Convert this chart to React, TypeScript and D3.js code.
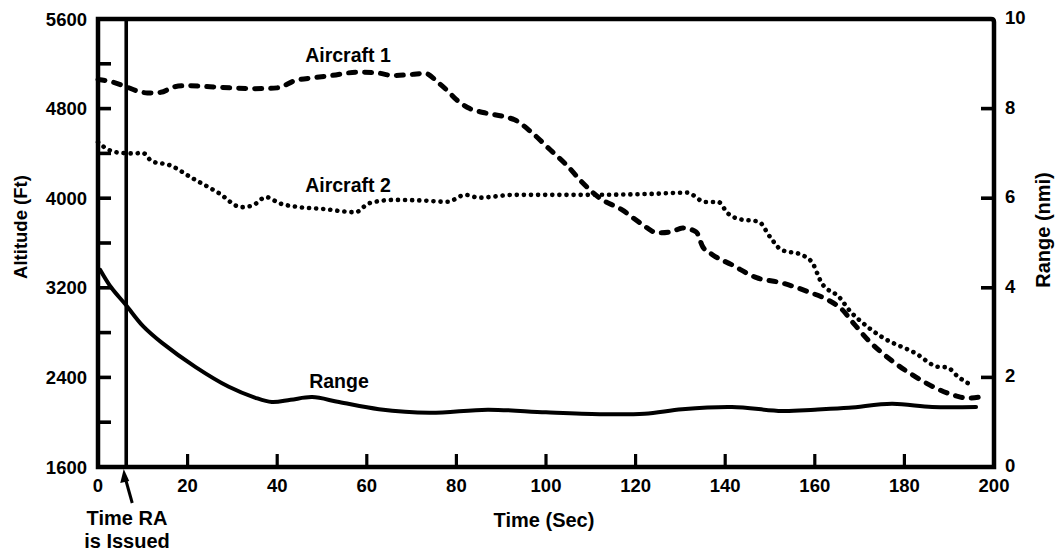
import React from "react";
import * as d3 from "d3";

const xTicks = [0, 20, 40, 60, 80, 100, 120, 140, 160, 180, 200];
const altTickLabels = [1600, 2400, 3200, 4000, 4800, 5600];
const altMinorTicks = [2000, 2400, 2800, 3200, 3600, 4000, 4400, 4800, 5200];
const rangeTickLabels = [0, 2, 4, 6, 8, 10];
const rangeTicks = [2, 4, 6, 8];
const raTime = 6.3;

const aircraft1T = [0, 3, 6, 9, 11, 14, 17, 20, 25, 30, 35, 40, 44, 48, 52, 58, 62, 66, 70, 73, 76, 78, 80, 83, 86, 91, 93, 97, 101, 104.5, 108, 112, 117, 121, 125, 128, 130.5, 133.5, 135, 137, 141.5, 147, 152.5, 158.5, 163, 166, 168.5, 172, 177, 182.5, 187, 191.5, 194, 197];
const aircraft1Alt = [5060, 5040, 5000, 4955, 4940, 4945, 4995, 5005, 4995, 4985, 4978, 4985, 5050, 5075, 5095, 5125, 5120, 5095, 5105, 5115, 5030, 4960, 4880, 4800, 4765, 4725, 4700, 4580, 4430, 4300, 4145, 4000, 3895, 3780, 3690, 3700, 3735, 3700, 3565, 3500, 3405, 3290, 3245, 3165, 3090, 3010, 2890, 2730, 2555, 2405, 2305, 2235, 2215, 2225];

const aircraft2T = [0, 2, 5, 8, 10, 12, 16, 21, 27, 32, 34.5, 37.5, 40.5, 45, 50, 57.5, 60.5, 66, 72, 78, 82, 85, 93, 108, 123, 131.5, 135.5, 138.5, 140.5, 143, 147.5, 150, 152.5, 157, 159.5, 161.5, 165.5, 168, 170, 175, 182.5, 187.5, 189.5, 192, 195];
const aircraft2Alt = [4500, 4440, 4405, 4400, 4405, 4330, 4295, 4180, 4045, 3920, 3935, 4010, 3955, 3920, 3905, 3875, 3955, 3985, 3980, 3968, 4030, 4005, 4030, 4030, 4038, 4050, 3966, 3966, 3868, 3815, 3790, 3655, 3540, 3495, 3420, 3245, 3115, 2985, 2910, 2760, 2615, 2495, 2490, 2405, 2330];

const rangeT = [0.5, 3, 6.2, 10, 14.3, 21.8, 29.2, 35, 38.8, 43, 47.8, 53.8, 62.7, 74, 87, 100, 112, 122, 130.4, 141.5, 152.7, 160, 167.6, 177.2, 186.2, 196];
const rangeNmi = [4.4, 4.0, 3.62, 3.15, 2.77, 2.23, 1.79, 1.55, 1.45, 1.5, 1.56, 1.45, 1.29, 1.21, 1.28, 1.22, 1.18, 1.19, 1.29, 1.34, 1.25, 1.28, 1.32, 1.41, 1.34, 1.34];

const W = 1055;
const H = 559;
const L = 98, R = 994, T = 19, B = 467;
const font = "'Liberation Sans', Arial, Helvetica, sans-serif";

export default function App() {
  const x = d3.scaleLinear().domain([0, 200]).range([L, R]);
  const yAlt = d3.scaleLinear().domain([1600, 5600]).range([B, T]);
  const yR = d3.scaleLinear().domain([0, 10]).range([B, T]);

  const altLine = d3
    .line<[number, number]>()
    .x((d) => x(d[0]))
    .y((d) => yAlt(d[1]))
    .curve(d3.curveMonotoneX);
  const rLine = d3
    .line<[number, number]>()
    .x((d) => x(d[0]))
    .y((d) => yR(d[1]))
    .curve(d3.curveCatmullRom.alpha(0.5));

  const a1 = aircraft1T.map((t, i) => [t, aircraft1Alt[i]] as [number, number]);
  const a2 = aircraft2T.map((t, i) => [t, aircraft2Alt[i]] as [number, number]);
  const rg = rangeT.map((t, i) => [t, rangeNmi[i]] as [number, number]);

  const xr = x(raTime);

  return (
    <div style={{ position: "absolute", left: 0, top: 0 }}>
      <svg width={W} height={H} style={{ display: "block", background: "#fff" }} fontFamily={font} fontWeight="bold">
        <rect x={0} y={0} width={W} height={H} fill="#fff" />
        {/* data lines */}
        <path d={altLine(a1) || ""} fill="none" stroke="#000" strokeWidth={5} strokeDasharray="7 9" strokeLinecap="round" />
        <path d={altLine(a2) || ""} fill="none" stroke="#000" strokeWidth={4.6} strokeDasharray="0.1 7" strokeLinecap="round" />
        <path d={rLine(rg) || ""} fill="none" stroke="#000" strokeWidth={4} strokeLinecap="round" />

        {/* frame */}
        <path d={`M${L},${B} L${L},${T} L${R - 3},${T} Q${R},${T} ${R},${T + 3} L${R},${B} Z`} fill="none" stroke="#000" strokeWidth={4.5} />

        {/* RA line */}
        <line x1={xr} x2={xr} y1={T} y2={B} stroke="#000" strokeWidth={3.6} />

        {/* bottom ticks */}
        {xTicks.slice(1, -1).map((t) => (
          <line key={"xt" + t} x1={x(t)} x2={x(t)} y1={B} y2={B - 13} stroke="#000" strokeWidth={3.2} />
        ))}
        {xTicks.map((t) => (
          <text key={"xl" + t} x={x(t)} y={492} textAnchor="middle" fontSize={18.5}>
            {t}
          </text>
        ))}

        {/* left ticks */}
        {altMinorTicks.map((v) => (
          <line key={"yt" + v} x1={L} x2={L + 13} y1={yAlt(v)} y2={yAlt(v)} stroke="#000" strokeWidth={3.6} />
        ))}
        {altTickLabels.map((v) => (
          <text key={"yl" + v} x={87} y={yAlt(v) + 6.5} textAnchor="end" fontSize={18.5}>
            {v}
          </text>
        ))}

        {/* right ticks */}
        {rangeTicks.map((v) => (
          <line key={"rt" + v} x1={R} x2={R - 13} y1={yR(v)} y2={yR(v)} stroke="#000" strokeWidth={3.6} />
        ))}
        {rangeTickLabels.map((v) => (
          <text key={"rl" + v} x={1005} y={yR(v) + 5} textAnchor="start" fontSize={18.5}>
            {v}
          </text>
        ))}

        {/* axis titles */}
        <text x={544} y={527} textAnchor="middle" fontSize={20}>Time (Sec)</text>
        <text transform={`translate(27,227) rotate(-90)`} textAnchor="middle" fontSize={18.5}>Altitude (Ft)</text>
        <text transform={`translate(1050,230) rotate(-90)`} textAnchor="middle" fontSize={20}>Range (nmi)</text>

        {/* series labels */}
        <text x={348} y={62} textAnchor="middle" fontSize={19.5}>Aircraft 1</text>
        <text x={348} y={192} textAnchor="middle" fontSize={19.5}>Aircraft 2</text>
        <text x={339} y={388} textAnchor="middle" fontSize={19.5}>Range</text>

        {/* RA annotation */}
        <line x1={xr + 6} y1={503} x2={xr - 1} y2={478} stroke="#000" strokeWidth={3} />
        <path d={`M${xr - 2.5},${469} L${xr - 6},${483} L${xr + 3},${481} Z`} fill="#000" />
        <text x={127} y={525} textAnchor="middle" fontSize={20}>Time RA</text>
        <text x={127} y={548} textAnchor="middle" fontSize={20}>is Issued</text>
      </svg>
    </div>
  );
}
